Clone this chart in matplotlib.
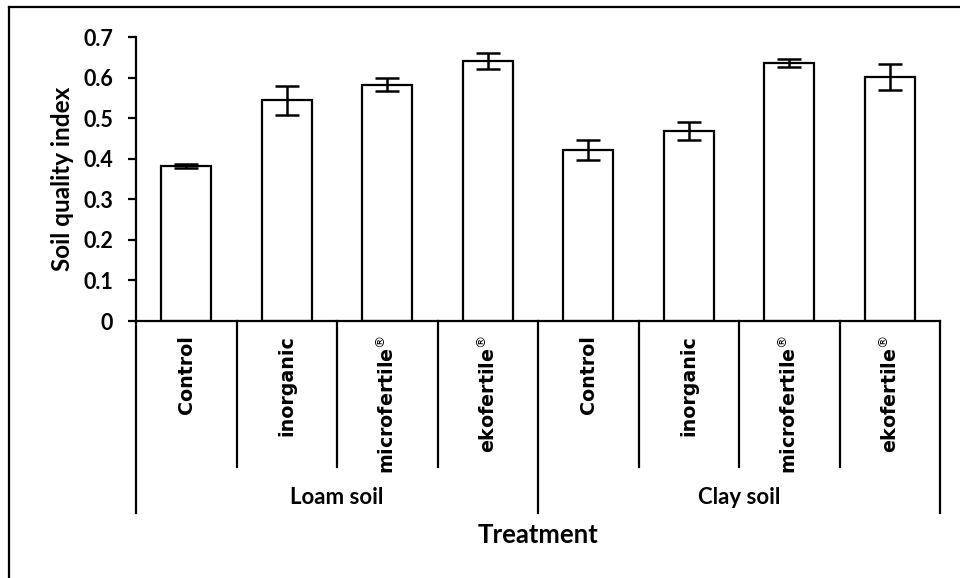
import numpy as np
import matplotlib
matplotlib.use("Agg")
import matplotlib.pyplot as plt
from matplotlib.lines import Line2D
import matplotlib.transforms as mtransforms

# данные с картинки
groups = ["Loam soil", "Clay soil"]
treatments = ["Control", "inorganic", "microfertile$^{®}$", "ekofertile$^{®}$"]
values = [0.383, 0.544, 0.582, 0.640, 0.421, 0.468, 0.637, 0.601]
errors = [0.005, 0.036, 0.016, 0.020, 0.025, 0.023, 0.010, 0.032]
yticks = [0, 0.1, 0.2, 0.3, 0.4, 0.5, 0.6, 0.7]

fig = plt.figure(figsize=(9.6, 5.78), dpi=100)
ax = fig.add_axes([136 / 960, 1 - 321 / 578, 804 / 960, 284 / 578])

labels_font = dict(family="Lato", weight="bold")
cat_font = dict(family="DejaVu Sans", weight="bold")

n = len(values)
x = np.arange(n)
ax.bar(x, values, width=0.5, color="white", edgecolor="black", linewidth=1.6, zorder=2)
ax.errorbar(x, values, yerr=errors, fmt="none", ecolor="black", elinewidth=1.8,
            capsize=8.5, capthick=1.8, zorder=3)

ax.set_xlim(-0.5, n - 0.5)
ax.set_ylim(0, 0.7)
ax.set_yticks(yticks)
ax.set_yticklabels(["0" if t == 0 else f"{t:.1f}" for t in yticks], fontsize=15.5, **labels_font)
ax.tick_params(axis="y", direction="out", length=5.5, width=1.6, pad=11)
ax.set_xticks([])
for s in ["top", "right"]:
    ax.spines[s].set_visible(False)
ax.spines["left"].set_linewidth(1.6)
ax.spines["bottom"].set_linewidth(1.6)

ax.set_ylabel("Soil quality index", fontsize=17.5, **labels_font)
ax.yaxis.set_label_coords(-0.077, 0.5)

# подписи категорий и разделители под осью
trans = mtransforms.blended_transform_factory(ax.transData, ax.transAxes)
for i in range(n + 1):
    bottom = -0.676 if i % 4 == 0 else -0.514
    ax.add_line(Line2D([i - 0.5, i - 0.5], [0, bottom], transform=trans,
                       color="black", linewidth=1.6, clip_on=False))
for i in range(n):
    ax.text(i, -0.05, treatments[i % 4], transform=trans, rotation=90,
            ha="center", va="top", fontsize=13.7, **cat_font)
for g, name in enumerate(groups):
    ax.text(g * 4 + 1.5, -0.623, name, transform=trans, ha="center", va="center",
            fontsize=16, **labels_font)
ax.text(0.5, -0.754, "Treatment", transform=ax.transAxes, ha="center", va="center",
        fontsize=18.5, **labels_font)

# рамка вокруг рисунка
fig.add_artist(Line2D([9 / 960, 9 / 960], [0, 1 - 7 / 578], transform=fig.transFigure,
                      color="black", linewidth=1.6))
fig.add_artist(Line2D([9 / 960, 1], [1 - 7 / 578, 1 - 7 / 578], transform=fig.transFigure,
                      color="black", linewidth=1.6))

fig.savefig("out.png", dpi=100)
